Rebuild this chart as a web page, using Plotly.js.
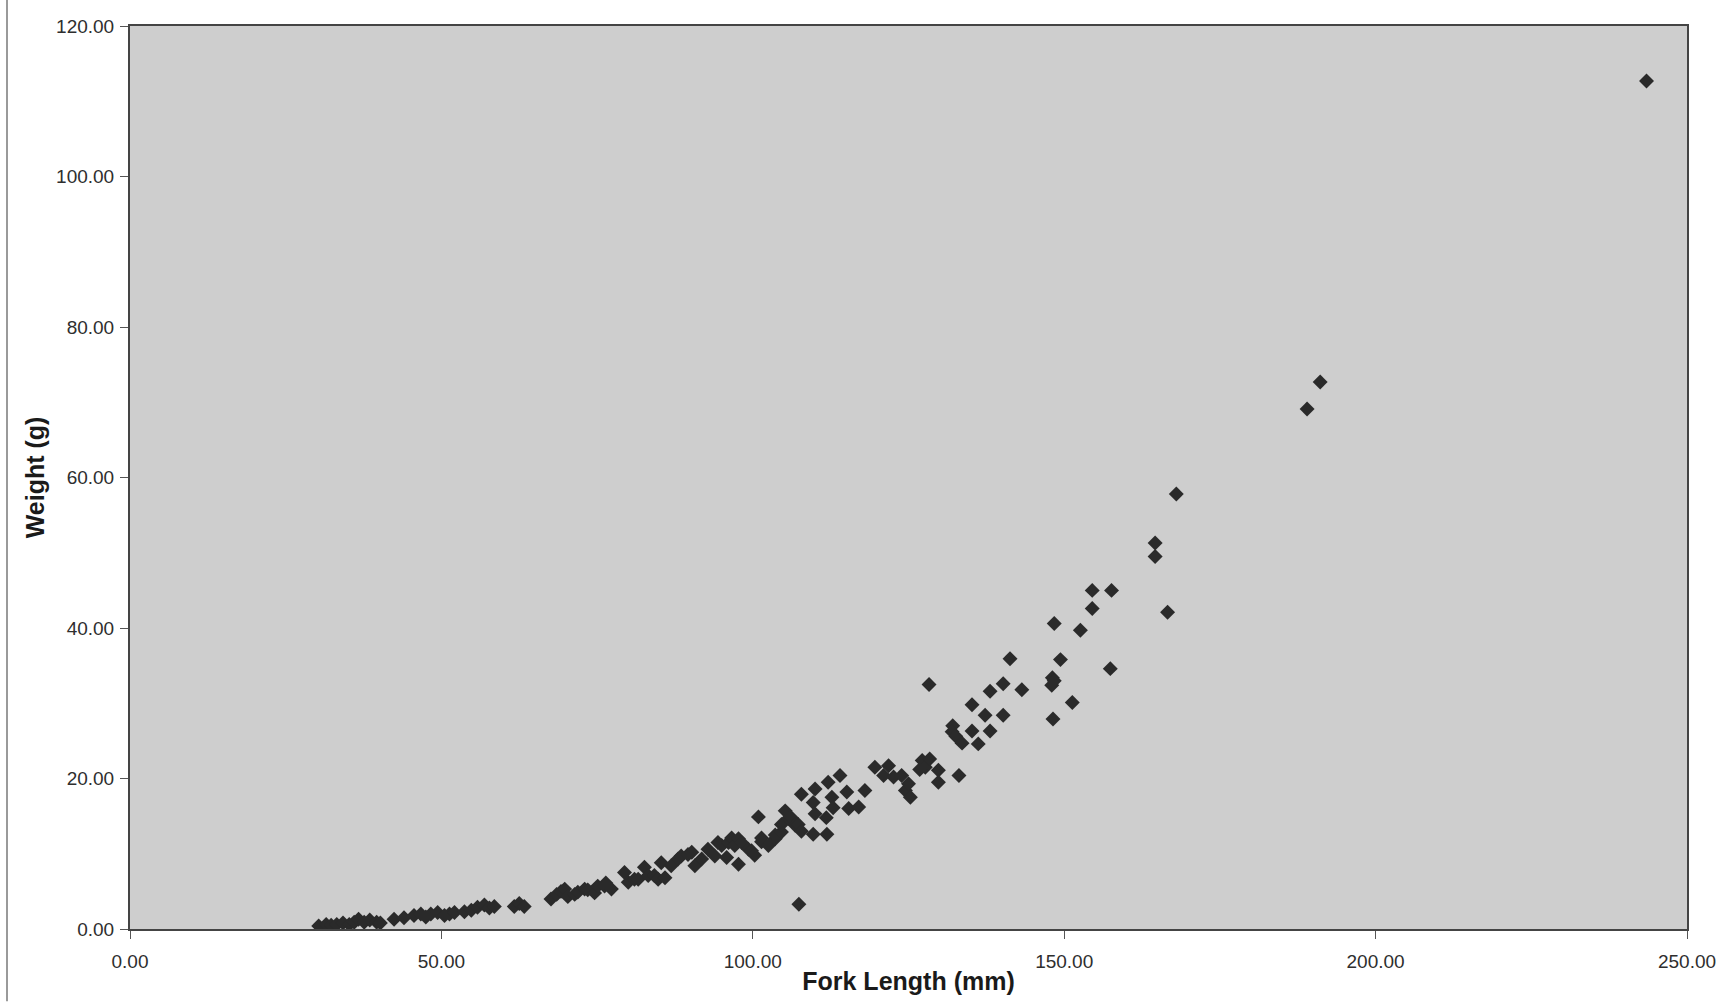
<!DOCTYPE html>
<html>
<head>
<meta charset="utf-8">
<script src="https://cdn.plot.ly/plotly-3.0.1.min.js"></script>
<style>
  html, body { margin: 0; padding: 0; background: #ffffff; }
  #chart { width: 1723px; height: 1002px; }
</style>
</head>
<body>
<div id="chart"></div>
<script>
// Fork length (mm) and weight (g)
const forkLength = [
  30.3, 31.5, 32.3, 33.2, 34.2, 35.2, 36.0, 36.7, 37.6, 38.5, 39.6, 40.2,
  42.4, 44.0, 45.6, 46.7, 47.5, 48.3, 49.4, 50.5, 51.3, 52.1, 53.7, 54.8, 55.8, 56.9, 57.7, 58.5,
  61.7, 62.5, 63.3,
  67.6, 68.5, 69.2, 69.8, 70.3, 71.4, 71.9, 73.0, 73.5, 74.6, 75.1, 76.2, 77.3, 76.4,
  79.4, 80.0, 81.0, 81.6, 82.6, 83.2, 84.2, 84.8, 85.3, 85.9, 86.9, 88.0, 88.5, 89.6, 90.2, 90.7,
  91.8, 92.8, 93.9, 94.4, 95.0, 95.8, 96.1, 96.6, 97.1, 97.7, 97.7, 98.2, 99.3, 99.8, 100.3, 100.9,
  101.4, 101.4, 102.5, 103.6, 103.6, 104.6, 104.6, 105.2, 105.7, 106.2, 106.8, 107.3, 107.4, 107.8,
  107.8, 109.7, 109.7, 110.0, 110.0, 111.8, 111.9, 112.1, 112.7, 112.9, 114.0, 115.1, 115.4, 117.0,
  118.0, 119.6, 121.0, 121.8, 122.6, 123.9, 124.5, 125.0, 125.3, 127.2, 127.7, 128.4, 126.8, 129.8,
  129.8, 128.3, 132.1, 132.0, 132.6, 133.6, 133.1, 135.2, 135.2, 136.2, 137.3, 138.1, 138.1, 140.2,
  140.2, 141.3, 143.2, 148.1, 148.0, 148.4, 148.2, 148.4, 149.4, 151.3, 152.6, 154.5, 154.5, 157.4,
  157.6, 164.6, 164.6, 166.6, 168.0, 189.0, 191.1, 243.5
];
const weight = [
  0.4, 0.6, 0.5, 0.6, 0.8, 0.6, 0.9, 1.3, 0.9, 1.2, 0.9, 0.8,
  1.3, 1.5, 1.8, 2.0, 1.6, 2.0, 2.2, 1.8, 2.0, 2.2, 2.3, 2.5, 2.9, 3.2, 2.8, 3.0,
  3.0, 3.4, 3.0,
  4.0, 4.6, 5.0, 5.3, 4.3, 4.6, 4.9, 5.3, 5.2, 4.8, 5.7, 5.7, 5.3, 6.1,
  7.5, 6.2, 6.6, 6.6, 8.2, 7.1, 7.1, 6.6, 8.8, 6.8, 8.4, 9.3, 9.7, 9.9, 10.2, 8.4,
  9.3, 10.6, 9.7, 11.5, 11.1, 9.5, 11.5, 12.1, 11.1, 8.6, 12.0, 11.5, 10.6, 10.4, 9.8, 14.9,
  11.6, 12.1, 11.1, 12.0, 12.5, 12.9, 13.9, 15.7, 14.7, 14.8, 13.8, 13.9, 3.3, 13.0,
  17.9, 16.8, 12.6, 18.6, 15.3, 14.8, 12.6, 19.5, 17.5, 16.1, 20.4, 18.2, 16.0, 16.2,
  18.4, 21.5, 20.4, 21.7, 20.2, 20.4, 18.4, 19.3, 17.5, 22.4, 21.5, 22.6, 21.2, 21.1,
  19.5, 32.5, 27.0, 26.2, 25.6, 24.7, 20.4, 29.8, 26.3, 24.6, 28.4, 31.6, 26.3, 32.6,
  28.4, 35.9, 31.8, 33.4, 32.4, 33.0, 27.9, 40.6, 35.8, 30.1, 39.7, 45.0, 42.6, 34.6,
  45.0, 51.3, 49.5, 42.1, 57.8, 69.1, 72.7, 112.7
];
const xTickValues = [0, 50, 100, 150, 200, 250];
const yTickValues = [0, 20, 40, 60, 80, 100, 120];
const xTitle = 'Fork Length (mm)';
const yTitle = 'Weight (g)';

const trace = {
  type: 'scatter',
  mode: 'markers',
  x: forkLength,
  y: weight,
  marker: { symbol: 'diamond', size: 11.5, color: '#2a2a2a', line: { width: 0 } },
  hoverinfo: 'x+y',
  showlegend: false
};

const tickFont = { family: 'Liberation Sans, Arial, sans-serif', size: 19, color: '#2e2e2e' };
const titleFont = { family: 'Liberation Sans, Arial, sans-serif', size: 25, color: '#1a1a1a', weight: 'bold' };

const layout = {
  width: 1723,
  height: 1002,
  paper_bgcolor: '#ffffff',
  plot_bgcolor: '#cecece',
  margin: { l: 130, r: 36, t: 26, b: 73 },
  showlegend: false,
  xaxis: {
    range: [0, 250],
    tickvals: xTickValues,
    tickformat: '.2f',
    ticks: 'outside',
    ticklen: 8,
    tickcolor: '#555555',
    tickfont: tickFont,
    ticklabelstandoff: 6,
    showgrid: false,
    zeroline: false,
    showline: true,
    linecolor: '#444444',
    linewidth: 2,
    mirror: true,
    title: { text: xTitle, font: titleFont, standoff: 2 }
  },
  yaxis: {
    range: [0, 120],
    tickvals: yTickValues,
    tickformat: '.2f',
    ticks: 'outside',
    ticklen: 8,
    tickcolor: '#555555',
    tickfont: tickFont,
    ticklabelstandoff: 2,
    showgrid: false,
    zeroline: false,
    showline: true,
    linecolor: '#444444',
    linewidth: 2,
    mirror: true,
    title: { text: yTitle, font: titleFont, standoff: 4 }
  },
  shapes: [
    { type: 'line', xref: 'paper', yref: 'paper', x0: -0.079, x1: -0.079, y0: -0.08, y1: 1.03,
      line: { color: '#9a9a9a', width: 2 } }
  ]
};

Plotly.newPlot('chart', [trace], layout, { displayModeBar: false, staticPlot: true });
</script>
</body>
</html>
